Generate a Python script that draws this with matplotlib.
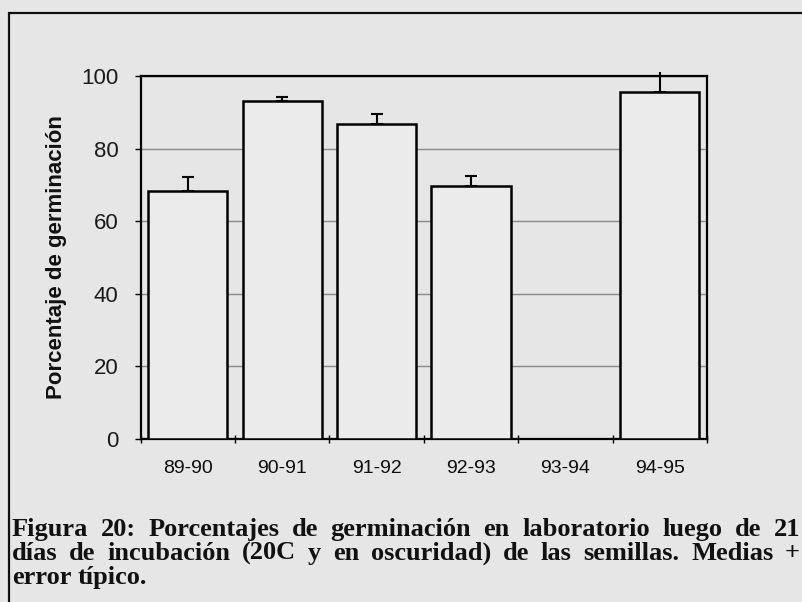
import numpy as np
import matplotlib
matplotlib.use("Agg")
import matplotlib.pyplot as plt
from matplotlib.patches import Rectangle

# data
campanas = ["89-90", "90-91", "91-92", "92-93", "93-94", "94-95"]
germinacion = [68.4, 93.1, 86.7, 69.8, None, 95.7]
error_tipico = [3.9, 1.2, 2.7, 2.7, None, 5.5]
y_ticks = [0, 20, 40, 60, 80, 100]

caption_lines = [
    "Figura 20: Porcentajes de germinación en laboratorio luego de 21",
    "días de incubación (20C y en oscuridad) de las semillas. Medias +",
    "error típico.",
]

bg = "#e6e6e6"
fig = plt.figure(figsize=(8.02, 6.02), dpi=100, facecolor=bg)
ax = fig.add_axes([0.1754, 0.2708, 0.7060, 0.6030], facecolor=bg)

# outer frame (runs past right and bottom edge)
fig.patches.append(Rectangle((9 / 802, -0.2), 1.2, 1.2 - 13 / 602,
                             transform=fig.transFigure, fill=False,
                             edgecolor="#111111", linewidth=1.6))

x = np.arange(len(campanas))
idx = [i for i, v in enumerate(germinacion) if v is not None]
vals = np.array([germinacion[i] for i in idx])
errs = np.array([error_tipico[i] for i in idx])

ax.bar(x[idx], vals, width=0.84, color="#ebebeb", edgecolor="black",
       linewidth=1.8, zorder=3)
eb = ax.errorbar(x[idx], vals, yerr=[np.zeros_like(errs), errs], fmt="none",
                 ecolor="black", elinewidth=1.5, capsize=4.5, capthick=1.5,
                 zorder=4)
for c in eb[1]:
    c.set_clip_on(True)
for b in eb[2]:
    b.set_clip_on(False)

ax.set_xlim(-0.5, len(campanas) - 0.5)
ax.set_ylim(0, 100)
ax.set_yticks(y_ticks)
ax.yaxis.grid(True, color="#8a8a8a", linewidth=1.0, zorder=0)
ax.set_axisbelow(True)

# ticks between categories, labels centered on categories
ax.set_xticks(np.arange(len(campanas) + 1) - 0.5)
ax.set_xticklabels([])
ax.set_xticks(x, minor=True)
ax.set_xticklabels(campanas, minor=True, fontsize=14,
                   family=["Liberation Sans", "DejaVu Sans"], color="#0d0d0d")
ax.tick_params(axis="x", which="major", direction="inout", length=6,
               width=1.0)
ax.tick_params(axis="x", which="minor", length=0, pad=15)
ax.tick_params(axis="y", direction="out", length=4, width=1.0, pad=12,
               labelsize=16, labelcolor="#1a1a1a")
for lab in ax.get_yticklabels():
    lab.set_family(["Liberation Sans", "DejaVu Sans"])

for s in ax.spines.values():
    s.set_linewidth(1.6)
    s.set_color("black")

ax.set_ylabel("Porcentaje de germinación", fontsize=16, fontweight="bold",
              family=["Liberation Sans", "DejaVu Sans"], color="#111111")
ax.yaxis.set_label_coords(-0.13, 0.5)

# caption, justified lines like the printed page
renderer = fig.canvas.get_renderer()
left_px, right_px = 12, 800
baselines = [536, 560, 584]
W, H = 802.0, 602.0
for k, line in enumerate(caption_lines):
    words = line.split(" ")
    texts = [fig.text(0, 1 - baselines[k] / H, w, fontsize=19,
                      fontweight="bold", va="baseline", ha="left",
                      family=["Liberation Serif", "DejaVu Serif"],
                      color="#111111") for w in words]
    widths = [t.get_window_extent(renderer).width for t in texts]
    if k < len(caption_lines) - 1:
        gap = (right_px - left_px - sum(widths)) / (len(words) - 1)
    else:
        gap = 6
    pos = left_px
    for t, w in zip(texts, widths):
        t.set_x(pos / W)
        pos += w + gap

fig.savefig("out.png", dpi=100, facecolor=bg)
